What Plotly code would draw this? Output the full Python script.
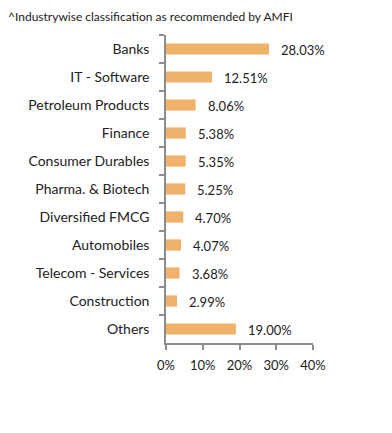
import plotly.graph_objects as go

categories = ["Banks", "IT - Software", "Petroleum Products", "Finance", "Consumer Durables",
              "Pharma. & Biotech", "Diversified FMCG", "Automobiles", "Telecom - Services",
              "Construction", "Others"]
values = [28.03, 12.51, 8.06, 5.38, 5.35, 5.25, 4.70, 4.07, 3.68, 2.99, 19.00]
x_ticks = [0, 10, 20, 30, 40]
x_tick_labels = ["0%", "10%", "20%", "30%", "40%"]
title_text = "^Industrywise classification as recommended by AMFI"

FONT = "Lato, 'Open Sans', sans-serif"
TXT = "#222222"
AX = "#8c8c8c"

fig = go.Figure(go.Bar(
    y=categories, x=values, orientation="h",
    marker=dict(color="#F0B16A", line=dict(width=0)),
    width=0.4, hoverinfo="skip",
))

for c, v in zip(categories, values):
    fig.add_annotation(x=v, y=c, text=f"{v:.2f}%", showarrow=False,
                       xanchor="left", xshift=10, yshift=-1,
                       font=dict(family=FONT, size=13, color=TXT))

# page body has an 8px default margin, so the figure is sized/offset accordingly
fig.update_layout(
    width=384, height=425,
    margin=dict(l=158, r=79, t=27, b=90, autoexpand=False),
    paper_bgcolor="white", plot_bgcolor="white",
    showlegend=False,
    font=dict(family=FONT, size=12, color=TXT),
    title=dict(text=title_text, x=0.0, xanchor="left", y=0.979, yanchor="middle",
               font=dict(family=FONT, size=12, color=TXT)),
)
fig.update_xaxes(range=[0, 40], tickvals=x_ticks, ticktext=x_tick_labels, automargin=False,
                 showgrid=False, zeroline=False, showline=True, linecolor=AX, linewidth=1.5,
                 ticks="outside", ticklen=5, tickcolor=AX, tickwidth=1.5, ticklabelstandoff=5,
                 tickfont=dict(family=FONT, size=13, color=TXT), fixedrange=True)
fig.update_yaxes(categoryorder="array", categoryarray=categories, autorange="reversed",
                 automargin=False,
                 showgrid=False, zeroline=False, showline=True, linecolor=AX, linewidth=1.5,
                 ticks="outside", tickson="boundaries", ticklen=5, tickcolor=AX, tickwidth=1.5,
                 ticklabelstandoff=12,
                 tickfont=dict(family=FONT, size=14, color=TXT), fixedrange=True)

fig.write_html("out.html")
